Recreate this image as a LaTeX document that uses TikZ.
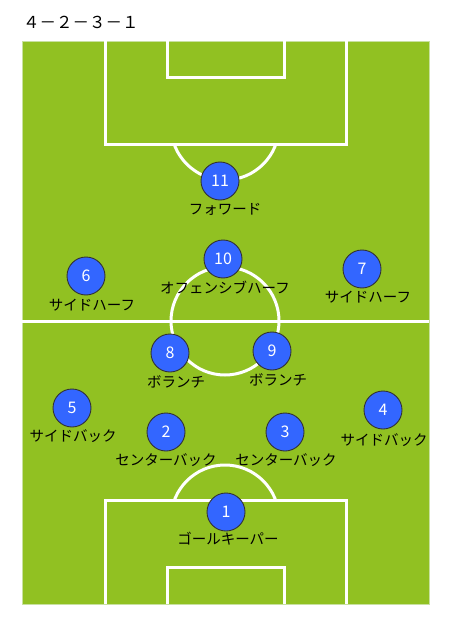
\documentclass[tikz,border=0pt]{standalone}
\usepackage{fontspec}
\usepackage{xcolor}
\newfontfamily\jp{Noto Sans CJK JP}
\definecolor{pitch}{RGB}{145,193,34}
\definecolor{pitchedge}{RGB}{200,225,160}
\definecolor{kit}{RGB}{51,102,255}
\tikzset{
  player/.style={circle,fill=kit,draw=black!80,line width=0.9pt,minimum size=38pt,inner sep=0pt,text=white,font=\jp\fontsize{16}{16}\selectfont},
  role/.style={font=\jp\fontsize{14.5}{15}\selectfont,inner sep=0pt},
  markline/.style={draw=white,line width=3pt}
}

\begin{document}
\begin{tikzpicture}[x=1pt,y=-1pt]
          \useasboundingbox (0,0) rectangle (452,628);
          \node[font=\jp\fontsize{16.5}{17}\selectfont,anchor=west,inner sep=0pt] (title) at (23,22) {４－２－３－１};
          \fill[pitch] (22,41) rectangle (429,604);
          \draw[pitchedge,line width=0.8pt] (22,41) rectangle (429,604);
          % halfway line and centre circle
          \draw[markline] (22,321) -- (429,321);
          \draw[markline] (225,321) circle(54);
          % top end
          \draw[markline] (105,41) -- (105,145) -- (346,145) -- (346,41);
          \draw[markline] (167,41) -- (167,78) -- (284,78) -- (284,41);
          \begin{scope}
            \clip (0,146.5) rectangle (452,321);
            \draw[markline] (225,126) circle(54);
          \end{scope}
          % bottom end
          \draw[markline] (105,604) -- (105,500) -- (346,500) -- (346,604);
          \draw[markline] (167,604) -- (167,567) -- (284,567) -- (284,604);
          \begin{scope}
            \clip (0,321) rectangle (452,498.5);
            \draw[markline] (225,519) circle(54);
          \end{scope}
          % players
          \node[player] (p11) at (220,181) {11};
          \node[player] (p10) at (223,259) {10};
          \node[player] (p6) at (86,276) {6};
          \node[player] (p7) at (362,269) {7};
          \node[player] (p8) at (170,353) {8};
          \node[player] (p9) at (272,351) {9};
          \node[player] (p5) at (72,408) {5};
          \node[player] (p4) at (383,410) {4};
          \node[player] (p2) at (166,432) {2};
          \node[player] (p3) at (285,432) {3};
          \node[player] (p1) at (226,512) {1};
          % roles
          \node[role] (r11) at (225,209) {フォワード};
          \node[role] (r10) at (225,288) {オフェンシブハーフ};
          \node[role] (r6) at (92,305) {サイドハーフ};
          \node[role] (r7) at (368,297) {サイドハーフ};
          \node[role] (r8) at (176,382) {ボランチ};
          \node[role] (r9) at (278,380) {ボランチ};
          \node[role] (r5) at (73,436) {サイドバック};
          \node[role] (r4) at (384,440) {サイドバック};
          \node[role] (r2) at (166,460) {センターバック};
          \node[role] (r3) at (286,460) {センターバック};
          \node[role] (r1) at (228,539) {ゴールキーパー};
        \end{tikzpicture}
\end{document}
